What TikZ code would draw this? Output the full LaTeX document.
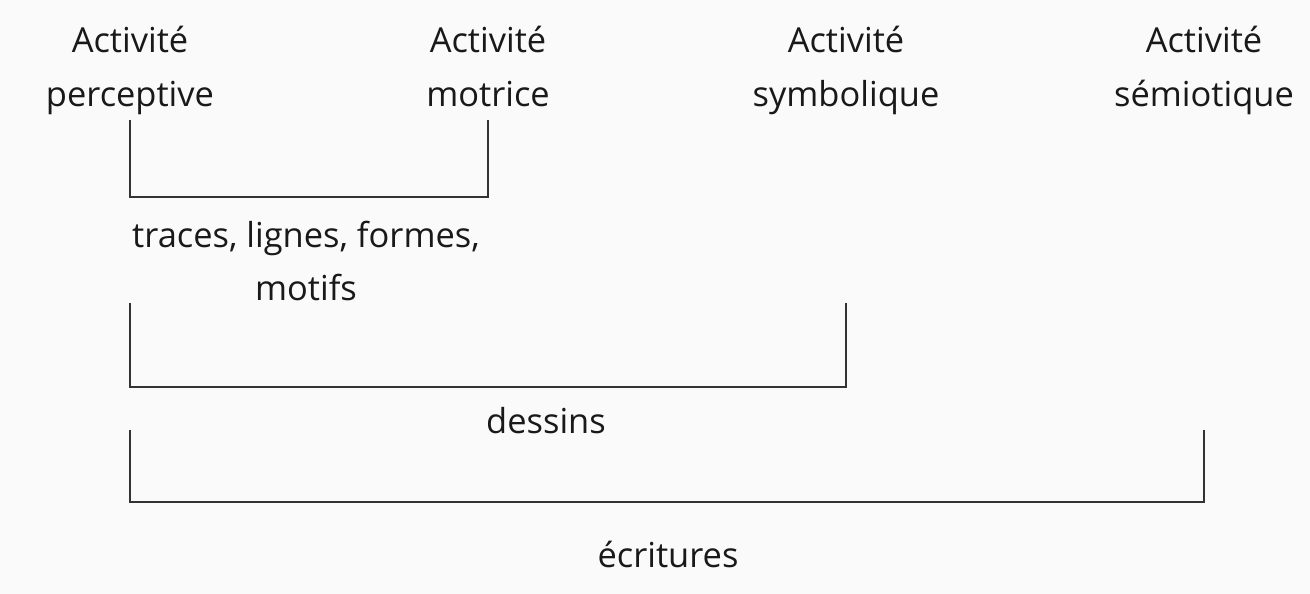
\documentclass[tikz,border=0pt]{standalone}
\usepackage{fontspec}
\setmainfont{Open Sans}

\begin{document}
\begin{tikzpicture}[x=0.02cm, y=-0.02cm,
    label/.style={align=center, font=\fontsize{19.6}{30.6}\selectfont, text=black!90, inner sep=0pt},
    bracket/.style={draw=black!80, line width=1.2pt}
]
\useasboundingbox[fill=black!2] (0,0) rectangle (1310,594);

% activites
\node[label, anchor=north] (perc) at (130,26) {Activit\'e\\perceptive};
\node[label, anchor=north] (motr) at (488,26) {Activit\'e\\motrice};
\node[label, anchor=north] (symb) at (846,26) {Activit\'e\\symbolique};
\node[label, anchor=north] (semi) at (1204,26) {Activit\'e\\s\'emiotique};

% productions
\node[label] (traces) at (306,261) {traces, lignes, formes,\\motifs};
\node[label, anchor=base] (dessins) at (546,433) {dessins};
\node[label, anchor=base] (ecrit) at (668,567) {\'ecritures};

% crochets
\draw[bracket] (perc |- 0,120) -- (perc |- 0,197) -| (motr |- 0,120);
\draw[bracket] (perc |- 0,303) -- (perc |- 0,387) -| (symb |- 0,303);
\draw[bracket] (perc |- 0,430) -- (perc |- 0,502) -| (semi |- 0,430);
\end{tikzpicture}
\end{document}
